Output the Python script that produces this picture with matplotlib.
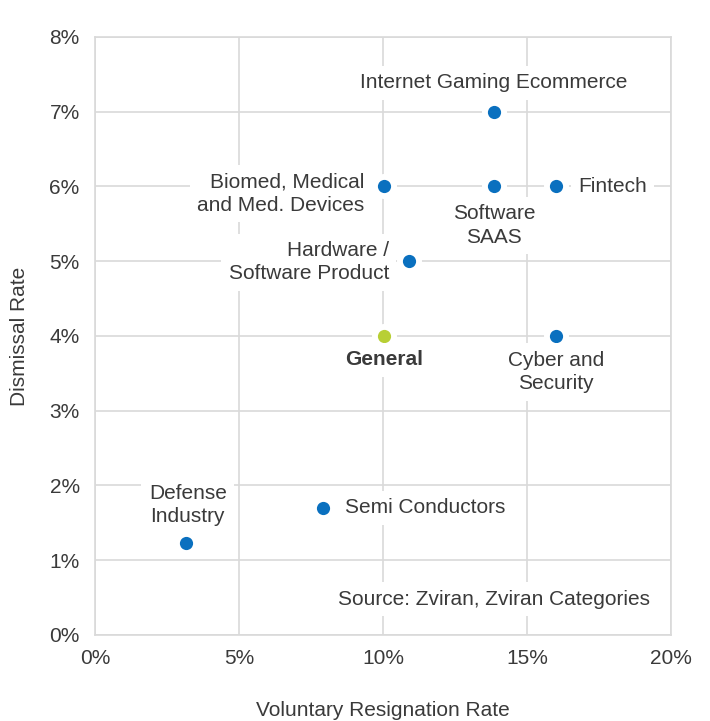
import matplotlib.pyplot as plt

plt.rcParams['font.family'] = ['Liberation Sans', 'DejaVu Sans']

# --- data ---
categories = ['Internet Gaming Ecommerce', 'Biomed, Medical\nand Med. Devices', 'Software\nSAAS',
              'Fintech', 'Hardware /\nSoftware Product', 'General', 'Cyber and\nSecurity',
              'Semi Conductors', 'Defense\nIndustry']
resign_rate = [13.85, 10.05, 13.85, 16.0, 10.9, 10.05, 16.0, 7.9, 3.15]
dismiss_rate = [7.0, 6.0, 6.0, 6.0, 5.0, 4.0, 4.0, 1.7, 1.23]
x_ticks = [0, 5, 10, 15, 20]
y_ticks = [0, 1, 2, 3, 4, 5, 6, 7, 8]

# label placement: (dx px, dy px, ha, va)
label_pos = [(0, 29, 'center', 'center'),
             (-20, -7, 'right', 'center'),
             (0, -39, 'center', 'center'),
             (22, 0, 'left', 'center'),
             (-20, -1, 'right', 'center'),
             (0, -24, 'center', 'center'),
             (0, -36, 'center', 'center'),
             (22, 0, 'left', 'center'),
             (2, 38, 'center', 'center')]

blue = '#0a70bf'
green = '#b8cf35'
grid_c = '#d9d9d9'
txt_c = '#3a3a3a'
fs = 15

fig = plt.figure(figsize=(7.1, 7.21), dpi=100)
ax = fig.add_axes([0.1338, 0.1193, 0.8113, 0.8294])

ax.set_xlim(0, 20)
ax.set_ylim(0, 8)
ax.set_xticks(x_ticks)
ax.set_yticks(y_ticks)
ax.set_xticklabels([f'{t}%' for t in x_ticks])
ax.set_yticklabels([f'{t}%' for t in y_ticks])
ax.tick_params(length=0, labelsize=fs, labelcolor=txt_c)
ax.tick_params(axis='x', pad=10)
ax.tick_params(axis='y', pad=11)
ax.grid(True, color=grid_c, linewidth=1.2, zorder=0)
ax.set_axisbelow(True)
for s in ax.spines.values():
    s.set_color(grid_c)
    s.set_linewidth(1.2)

for name, x, y, (dx, dy, ha, va) in zip(categories, resign_rate, dismiss_rate, label_pos):
    c = green if name == 'General' else blue
    ax.plot(x, y, 'o', ms=17, color='white', zorder=3)
    ax.plot(x, y, 'o', ms=9.5, color=c, mew=0, zorder=4)
    ax.annotate(name, (x, y), xytext=(dx, dy), textcoords='offset pixels',
                ha=ha, va=va, fontsize=fs, color=txt_c, linespacing=1.3,
                fontweight='bold' if name == 'General' else 'normal',
                bbox=dict(boxstyle='square,pad=0.35', fc='white', ec='none'), zorder=5)

ax.text(13.85, 0.48, 'Source: Zviran, Zviran Categories', ha='center', va='center',
        fontsize=fs, color=txt_c,
        bbox=dict(boxstyle='square,pad=0.35', fc='white', ec='none'), zorder=5)

ax.set_xlabel('Voluntary Resignation Rate', fontsize=fs, color=txt_c, labelpad=24)
ax.set_ylabel('Dismissal Rate', fontsize=fs, color=txt_c, labelpad=15)

fig.savefig('out.png', dpi=100)
